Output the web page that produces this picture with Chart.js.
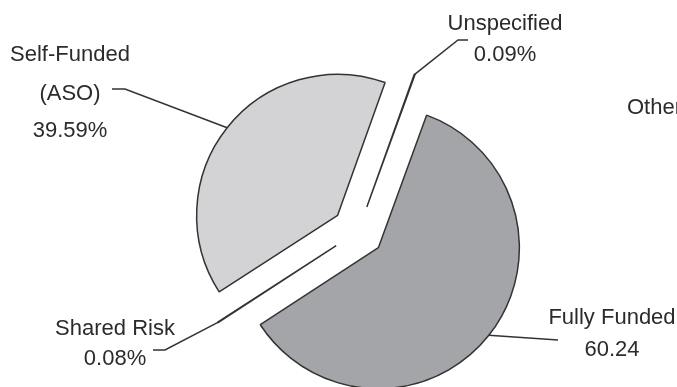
<!DOCTYPE html>
<html>
<head>
<meta charset="utf-8">
<script src="https://cdn.jsdelivr.net/npm/chart.js@4/dist/chart.umd.min.js"></script>
<style>
  html, body { margin: 0; padding: 0; background: #fff; }
  #wrap { width: 677px; height: 387px; position: relative; }
</style>
</head>
<body>
<div id="wrap"><canvas id="chart"></canvas></div>
<script>
// données du graphique
const categories = ["Fully Funded", "Shared Risk", "Self-Funded (ASO)", "Unspecified", "Other"];
const shares = [60.24, 0.08, 39.59, 0.09, 0];
const shareLabels = ["60.24", "0.08%", "39.59%", "0.09%", ""];
const nameLines = [["Fully Funded"], ["Shared Risk"], ["Self-Funded", "(ASO)"], ["Unspecified"], ["Other"]];

// mise en page des étiquettes (x centre, y de chaque ligne) et des traits de rappel
const labelLayout = [
  { x: 612, ys: [318, 350], align: "center", leader: [[558, 340]] },
  { x: 115, ys: [329, 359], align: "center", leader: [[165, 350], [153, 350]] },
  { x: 70, ys: [55, 94, 131], align: "center", leader: [[125, 89], [112, 89]] },
  { x: 505, ys: [24, 55], align: "center", leader: [[458, 40], [468, 40]] },
  { x: 627, ys: [108], align: "left", leader: null }
];

const fills = ["#a4a5a9", "#ffffff", "#d3d3d5", "#ffffff", "#ffffff"];
const explode = 26;
const ink = "#333333";

// écarter chaque part le long de son angle médian
const explodePlugin = {
  id: "explode",
  beforeDatasetsDraw(chart) {
    const area = chart.chartArea;
    const cx = (area.left + area.right) / 2;
    const cy = (area.top + area.bottom) / 2;
    chart.getDatasetMeta(0).data.forEach(arc => {
      const mid = (arc.startAngle + arc.endAngle) / 2;
      arc.x = cx + Math.cos(mid) * explode;
      arc.y = cy + Math.sin(mid) * explode;
    });
  }
};

// étiquettes + traits de rappel
const labelPlugin = {
  id: "pieLabels",
  afterDatasetsDraw(chart) {
    const ctx = chart.ctx;
    const arcs = chart.getDatasetMeta(0).data;
    ctx.save();
    ctx.strokeStyle = ink;
    ctx.lineWidth = 1.5;
    ctx.fillStyle = "#2b2b2b";
    ctx.font = "22px 'Liberation Sans', Arial, sans-serif";
    ctx.textBaseline = "middle";
    arcs.forEach((arc, i) => {
      const lay = labelLayout[i];
      if (lay.leader && shares[i] > 0) {
        const mid = (arc.startAngle + arc.endAngle) / 2;
        ctx.beginPath();
        ctx.moveTo(arc.x + Math.cos(mid) * arc.outerRadius, arc.y + Math.sin(mid) * arc.outerRadius);
        lay.leader.forEach(p => ctx.lineTo(p[0], p[1]));
        ctx.stroke();
      }
      const lines = nameLines[i].concat(shareLabels[i] ? [shareLabels[i]] : []);
      ctx.textAlign = lay.align;
      lines.forEach((t, k) => ctx.fillText(t, lay.x, lay.ys[k]));
    });
    ctx.restore();
  }
};

new Chart(document.getElementById("chart"), {
  type: "pie",
  data: {
    labels: categories,
    datasets: [{
      data: shares,
      backgroundColor: fills,
      borderColor: ink,
      borderWidth: 1.5
    }]
  },
  options: {
    responsive: true,
    maintainAspectRatio: false,
    animation: false,
    rotation: 20,
    radius: 141,
    layout: { padding: { left: 39, right: 0, top: 76, bottom: 0 } },
    plugins: {
      legend: { display: false },
      tooltip: { enabled: false }
    }
  },
  plugins: [explodePlugin, labelPlugin]
});
</script>
</body>
</html>
